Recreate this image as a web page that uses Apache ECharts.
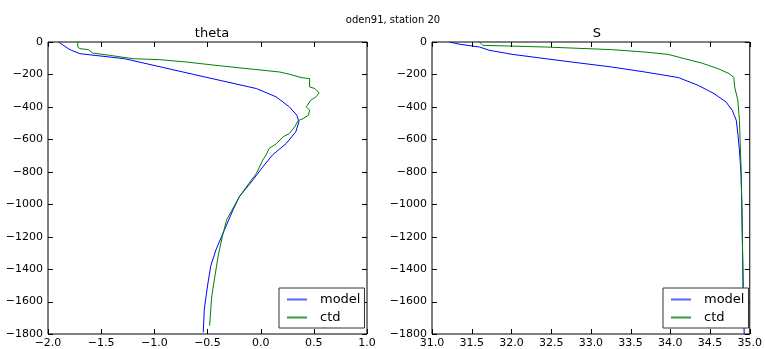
<!DOCTYPE html>
<html>
<head>
<meta charset="utf-8">
<script src="https://cdn.jsdelivr.net/npm/echarts@6/dist/echarts.min.js"></script>
<style>
  html, body { margin: 0; padding: 0; background: #fff; }
  #chart { width: 765px; height: 349px; }
</style>
</head>
<body>
<div id="chart"></div>
<script>
// theta panel: [value, depth]
const thetaModel = [
  [-1.90, 0], [-1.81, -41], [-1.78, -51], [-1.70, -72], [-1.28, -103],
  [-0.63, -200], [-0.04, -287], [0.145, -338], [0.27, -400], [0.34, -451],
  [0.36, -492], [0.33, -554], [0.24, -626], [0.11, -697], [0.02, -770],
  [-0.074, -851], [-0.20, -953], [-0.26, -1035], [-0.34, -1157], [-0.42, -1280],
  [-0.47, -1382], [-0.50, -1504], [-0.53, -1647], [-0.54, -1790]
];
const thetaCtd = [
  [-1.72, 0], [-1.72, -31], [-1.70, -41], [-1.62, -47], [-1.58, -68],
  [-1.42, -82], [-1.20, -103], [-0.95, -109], [-0.70, -123], [-0.42, -144],
  [-0.07, -168], [0.18, -185], [0.27, -199], [0.38, -219], [0.46, -226],
  [0.46, -277], [0.51, -287], [0.55, -314], [0.52, -338], [0.47, -359],
  [0.43, -400], [0.46, -420], [0.45, -451], [0.40, -472], [0.35, -486],
  [0.32, -523], [0.27, -564], [0.21, -585], [0.15, -626], [0.08, -656],
  [0.05, -697], [0.02, -728], [-0.04, -810], [-0.11, -871], [-0.20, -953],
  [-0.32, -1096], [-0.36, -1198], [-0.40, -1320], [-0.43, -1443],
  [-0.46, -1565], [-0.48, -1749]
];
// salinity panel
const sModel = [
  [31.22, 0], [31.35, -14], [31.60, -31], [31.72, -51], [32.01, -76],
  [32.43, -103], [32.85, -129], [33.26, -154], [33.68, -185], [34.10, -219],
  [34.35, -267], [34.55, -318], [34.70, -369], [34.78, -421], [34.83, -482],
  [34.85, -564], [34.87, -667], [34.89, -810], [34.90, -1000], [34.91, -1300],
  [34.92, -1600], [34.93, -1800]
];
const sCtd = [
  [31.60, 0], [31.64, -21], [31.68, -21], [32.43, -31], [33.26, -47],
  [33.68, -62], [33.97, -76], [34.18, -103], [34.39, -129], [34.60, -164],
  [34.74, -195], [34.80, -219], [34.81, -277], [34.85, -359], [34.87, -482],
  [34.89, -769], [34.90, -1000], [34.91, -1300], [34.92, -1600], [34.92, -1760]
];

// tick values
const thetaTicks = [-2.0, -1.5, -1.0, -0.5, 0.0, 0.5, 1.0];
const sTicks = [31.0, 31.5, 32.0, 32.5, 33.0, 33.5, 34.0, 34.5, 35.0];
const depthTicks = [-1800, -1600, -1400, -1200, -1000, -800, -600, -400, -200, 0];

const MODEL_COLOR = '#0000ff';
const CTD_COLOR = '#008000';
const TICK_LEN = 5;

const chart = echarts.init(document.getElementById('chart'), null, { renderer: 'canvas' });

const font = 'DejaVu Sans';
const minus = (s) => String(s).replace('-', '\u2212');
const labelStyle = { color: '#000', fontFamily: font, fontSize: 11 };

const panels = [
  { left: 48, top: 42, width: 319, height: 293, xTicks: thetaTicks },
  { left: 432, top: 42, width: 320, height: 293, xTicks: sTicks }
];

const grids = [], xAxis = [], yAxis = [];
panels.forEach((p, i) => {
  const xt = p.xTicks;
  grids.push({ left: p.left, top: p.top, width: p.width, height: p.height,
    show: true, borderColor: '#000', borderWidth: 1, backgroundColor: 'transparent' });
  xAxis.push({ type: 'value', gridIndex: i, min: xt[0], max: xt[xt.length - 1], interval: xt[1] - xt[0],
    position: 'bottom', axisLine: { show: false }, axisTick: { show: false }, splitLine: { show: false },
    axisLabel: Object.assign({ margin: 4, formatter: (v) => minus(v.toFixed(1)) }, labelStyle) });
  yAxis.push({ type: 'value', gridIndex: i, min: depthTicks[0], max: depthTicks[depthTicks.length - 1],
    interval: depthTicks[1] - depthTicks[0],
    position: 'left', axisLine: { show: false }, axisTick: { show: false }, splitLine: { show: false },
    axisLabel: Object.assign({ margin: 5, formatter: (v) => minus(v) }, labelStyle) });
});

function line(name, data, color, axisIdx) {
  return { name, type: 'line', data, xAxisIndex: axisIdx, yAxisIndex: axisIdx,
    showSymbol: false, silent: true, animation: false,
    lineStyle: { color, width: 1 }, itemStyle: { color } };
}

function legend(left) {
  return { left, top: 288, width: 82, height: 41, orient: 'vertical',
    data: [
      { name: 'model', itemStyle: { color: '#5566ff', borderWidth: 0 }, lineStyle: { width: 0 } },
      { name: 'ctd', itemStyle: { color: '#3a9a3a', borderWidth: 0 }, lineStyle: { width: 0 } }
    ],
    backgroundColor: '#fff', borderColor: '#333', borderWidth: 1, borderRadius: 0,
    padding: [5, 4, 4, 8], itemGap: 5, itemWidth: 20, itemHeight: 2, icon: 'rect',
    selectedMode: false, align: 'left', z: 10,
    textStyle: { color: '#000', fontFamily: font, fontSize: 13, padding: [0, 0, 0, 8] } };
}

chart.setOption({
  backgroundColor: '#fff',
  animation: false,
  title: [
    { text: 'oden91, station 20', left: 388, top: 10, textAlign: 'center',
      textStyle: { fontFamily: font, fontSize: 10, fontWeight: 'normal', color: '#000' } },
    { text: 'theta', left: 207, top: 22, textAlign: 'center',
      textStyle: { fontFamily: font, fontSize: 13, fontWeight: 'normal', color: '#000' } },
    { text: 'S', left: 592, top: 22, textAlign: 'center',
      textStyle: { fontFamily: font, fontSize: 13, fontWeight: 'normal', color: '#000' } }
  ],
  grid: grids,
  xAxis,
  yAxis,
  legend: [legend(279), legend(663)],
  series: [
    line('model', thetaModel, MODEL_COLOR, 0),
    line('ctd', thetaCtd, CTD_COLOR, 0),
    line('model', sModel, MODEL_COLOR, 1),
    line('ctd', sCtd, CTD_COLOR, 1)
  ]
});

// inward tick marks on all four sides, positioned through the axis scales
function drawTicks() {
  const els = [];
  const tickLine = (x1, y1, x2, y2) => els.push({ type: 'line', silent: true, z: 5,
    shape: { x1, y1, x2, y2 }, style: { stroke: '#000', lineWidth: 1 } });
  panels.forEach((p, i) => {
    const xt = p.xTicks;
    const yBot = depthTicks[0], yTop = depthTicks[depthTicks.length - 1];
    const xL = xt[0], xR = xt[xt.length - 1];
    xt.forEach((v) => {
      const b = chart.convertToPixel({ gridIndex: i }, [v, yBot]);
      const t = chart.convertToPixel({ gridIndex: i }, [v, yTop]);
      const x = Math.round(b[0]) + 0.5;
      tickLine(x, b[1], x, b[1] - TICK_LEN);
      tickLine(x, t[1], x, t[1] + TICK_LEN);
    });
    depthTicks.forEach((d) => {
      const l = chart.convertToPixel({ gridIndex: i }, [xL, d]);
      const r = chart.convertToPixel({ gridIndex: i }, [xR, d]);
      const y = Math.round(l[1]) + 0.5;
      tickLine(l[0], y, l[0] + TICK_LEN, y);
      tickLine(r[0], y, r[0] - TICK_LEN, y);
    });
  });
  chart.setOption({ graphic: { elements: els } }, { replaceMerge: ['graphic'] });
}
drawTicks();
window.addEventListener('resize', () => { chart.resize(); drawTicks(); });
</script>
</body>
</html>
